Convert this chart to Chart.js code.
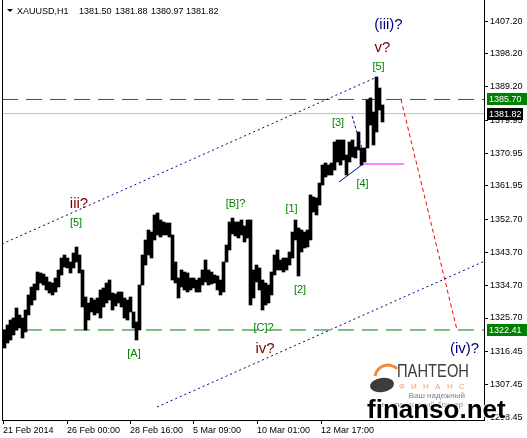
<!DOCTYPE html>
<html>
<head>
<meta charset="utf-8">
<script src="https://cdn.jsdelivr.net/npm/chart.js@4.4.1/dist/chart.umd.min.js"></script>
<style>
html,body{margin:0;padding:0;background:#fff;overflow:hidden;}
canvas{display:block;}
</style>
</head>
<body>
<canvas id="chart" width="527" height="438"></canvas>
<script>
// ---------------- data ----------------
const symbolName = 'XAUUSD,H1';
const lastQuote = ['1381.50', '1381.88', '1380.97', '1381.82'];

// sampled H1 bars (every 3 hours): high / low
const barHigh = [
  1322.41,1323.78,1325.15,1325.70,1328.45,1326.53,1325.70,1327.90,1332.02,1334.21,
  1335.04,1338.33,1338.06,1337.78,1336.96,1335.59,1335.31,1336.68,1338.88,1342.17,
  1343.00,1342.17,1341.08,1343.55,1345.19,1343.00,1338.88,1331.47,1329.82,1331.19,
  1330.64,1331.19,1333.39,1333.94,1335.31,1336.13,1332.57,1332.29,1332.84,1332.84,
  1331.19,1330.64,1331.47,1327.35,1324.60,1334.76,1343.00,1347.12,1349.86,1349.31,
  1353.98,1354.53,1352.61,1352.06,1351.78,1351.78,1348.49,1341.08,1336.68,1338.88,
  1338.33,1338.06,1336.68,1336.68,1336.13,1336.68,1338.88,1341.63,1338.88,1338.33,
  1337.51,1337.23,1336.13,1341.08,1345.74,1352.06,1353.15,1352.06,1352.06,1352.61,
  1350.96,1352.61,1352.61,1338.88,1340.25,1339.43,1336.13,1335.31,1334.76,1338.33,
  1343.00,1344.37,1341.63,1342.17,1342.17,1343.82,1349.31,1352.61,1350.41,1349.86,
  1349.31,1349.86,1359.47,1358.92,1358.65,1362.76,1367.70,1368.25,1367.70,1368.25,
  1374.02,1374.57,1374.57,1374.57,1370.45,1374.02,1374.57,1372.65,1376.76,1372.37,
  1372.37,1385.55,1386.10,1382.25,1391.86,1388.84,1384.18
];
const barLow = [
  1317.47,1318.84,1319.66,1321.04,1322.41,1322.96,1320.21,1321.86,1326.53,1329.27,
  1330.64,1333.39,1335.31,1334.76,1333.39,1332.57,1332.02,1332.84,1334.21,1337.51,
  1339.70,1339.43,1338.06,1339.43,1341.08,1338.06,1328.72,1322.41,1325.15,1327.35,
  1326.53,1327.08,1325.70,1328.72,1329.82,1330.64,1327.90,1329.00,1329.82,1328.72,
  1325.70,1325.15,1327.35,1322.96,1319.66,1322.41,1334.76,1340.25,1343.00,1342.17,
  1347.12,1348.49,1347.94,1348.49,1348.49,1347.94,1336.13,1335.31,1331.19,1334.21,
  1333.39,1332.84,1333.39,1333.94,1332.84,1332.84,1334.76,1335.59,1334.76,1335.04,
  1335.31,1333.39,1332.02,1332.84,1341.08,1344.37,1348.76,1348.21,1347.66,1348.49,
  1346.57,1347.66,1329.27,1331.19,1335.59,1333.39,1327.90,1329.27,1329.82,1332.02,
  1337.51,1338.88,1338.88,1338.33,1338.88,1340.25,1342.17,1347.12,1337.23,1343.82,
  1344.92,1345.19,1347.12,1354.80,1353.98,1356.72,1362.21,1364.41,1364.96,1364.96,
  1366.33,1368.53,1367.70,1369.08,1364.96,1368.53,1369.90,1369.63,1371.82,1367.70,
  1368.53,1372.37,1378.69,1373.19,1376.76,1382.80,1379.51
];
const hoursPerBar = 3;

const timeTickHours = [1, 65, 128, 191, 255, 319];
const timeTickLabels = ['21 Feb 2014', '26 Feb 00:00', '28 Feb 16:00', '5 Mar 09:00', '10 Mar 01:00', '12 Mar 17:00'];
const priceTicks = [1407.20, 1398.20, 1389.20, 1379.95, 1370.95, 1361.95, 1352.70, 1343.70, 1334.70, 1325.70, 1316.45, 1307.45, 1298.45];

const resistanceLevel = 1385.70;
const supportLevel = 1322.41;
const bidLevel = 1381.82;

// drawn analysis objects (hour index, price)
const upperChannel = [{x: 0, y: 1346.02}, {x: 375, y: 1391.86}];
const lowerChannel = [{x: 155, y: 1301.27}, {x: 482, y: 1341.24}];
const targetPath = [{x: 399, y: 1385.70}, {x: 455, y: 1322.41}];
const wave4Level = [{x: 361, y: 1367.98}, {x: 402, y: 1367.98}];
const wave4Line = [{x: 337, y: 1363.04}, {x: 361, y: 1367.98}];
const wave3Line = [{x: 350, y: 1381.16}, {x: 361, y: 1371.27}];

const waveText   = ['(iii)?', 'v?', '[5]', '[3]', '[4]', '[1]', '[2]', '[B]?', '[C]?', 'iv?', 'iii?', '[5]', '[A]', '(iv)?'];
const waveHour   = [386.5, 380.5, 376.5, 336, 360.5, 289.5, 298, 233.5, 261.5, 263, 77, 74, 132, 462.5];
const wavePrice  = [1405.04, 1398.72, 1393.78, 1378.41, 1361.66, 1354.80, 1332.57, 1356.17, 1322.13, 1316.09, 1355.90, 1350.96, 1315.00, 1316.09];
const waveDegree = ['intermediate', 'minor', 'minute', 'minute', 'minute', 'minute', 'minute', 'minute', 'minute', 'minor', 'minor', 'minute', 'minute', 'intermediate'];

// ---------------- styles ----------------
const FONT = "'Liberation Sans', Arial, sans-serif";
const degreeStyle = {
  intermediate: {color: '#000080', size: 15},
  minor: {color: '#800000', size: 15},
  minute: {color: '#008000', size: 11}
};

const priceBars = barHigh.map((h, i) => ({x: i * hoursPerBar + hoursPerBar / 2 + 1, y: [barLow[i], h]}));
const fullSpan = v => [{x: 0, y: v}, {x: 482, y: v}];

function lineDs(data, color, dash, order) {
  return {type: 'line', data, borderColor: color, borderWidth: 1, borderDash: dash || [],
          pointRadius: 0, fill: false, tension: 0, order: order};
}

const annotPlugin = {
  id: 'annot',
  beforeDraw(chart) {
    const ctx = chart.ctx;
    ctx.save();
    ctx.fillStyle = '#fff';
    ctx.fillRect(0, 0, chart.width, chart.height);
    ctx.restore();
  },
  afterDraw(chart) {
    const {ctx, chartArea: a, scales: {x, y}} = chart;
    ctx.save();
    // left frame line
    ctx.strokeStyle = '#000'; ctx.lineWidth = 1;
    ctx.beginPath(); ctx.moveTo(a.left + 0.5, a.top); ctx.lineTo(a.left + 0.5, a.bottom); ctx.stroke();

    // header
    ctx.fillStyle = '#000';
    ctx.beginPath(); ctx.moveTo(7, 9); ctx.lineTo(13, 9); ctx.lineTo(10, 12); ctx.closePath(); ctx.fill();
    ctx.font = '9px ' + FONT; ctx.textBaseline = 'alphabetic'; ctx.textAlign = 'left';
    ctx.fillText(symbolName, 17, 14);
    const qx = [79, 115, 151, 186];
    lastQuote.forEach((q, i) => ctx.fillText(q, qx[i], 14));

    // wave labels
    ctx.textAlign = 'center';
    waveText.forEach((t, i) => {
      const st = degreeStyle[waveDegree[i]];
      ctx.fillStyle = st.color;
      ctx.font = st.size + 'px ' + FONT;
      ctx.fillText(t, x.getPixelForValue(waveHour[i]), y.getPixelForValue(wavePrice[i]));
    });

    // price tags on the axis
    const tag = (v, bg, w) => {
      const py = Math.round(y.getPixelForValue(v));
      ctx.fillStyle = bg;
      ctx.fillRect(a.right + 3, py - 6, w, 12);
      ctx.fillStyle = '#fff';
      ctx.font = '9px ' + FONT; ctx.textAlign = 'left'; ctx.textBaseline = 'middle';
      ctx.fillText(v.toFixed(2), a.right + 5, py + 0.5);
    };
    tag(resistanceLevel, '#008000', 40);
    tag(bidLevel, '#000', 36);
    tag(supportLevel, '#008000', 40);

    // watermark logo
    ctx.textBaseline = 'alphabetic';
    ctx.strokeStyle = '#f08a3c'; ctx.lineWidth = 3;
    ctx.beginPath(); ctx.arc(388, 378, 13, Math.PI * 1.05, Math.PI * 1.75); ctx.stroke();
    ctx.fillStyle = '#3c3c3c';
    ctx.beginPath(); ctx.ellipse(382, 385, 12, 7, -0.15, 0, Math.PI * 2); ctx.fill();
    ctx.fillStyle = '#3c3c3c';
    ctx.font = '18px ' + FONT; ctx.textAlign = 'left';
    ctx.fillText('ПАНТЕОН', 397, 377, 72);
    ctx.fillStyle = '#f2a070';
    ctx.font = '8px ' + FONT;
    const fin = 'ФИНАНС';
    for (let i = 0; i < fin.length; i++) ctx.fillText(fin[i], 399 + i * 12, 389);
    ctx.fillStyle = '#808080';
    ctx.font = '8px ' + FONT; ctx.textAlign = 'right';
    ctx.fillText('Ваш надежный', 465, 398);
    ctx.fillText('инвестиционный брокер', 463, 407);

    ctx.textAlign = 'left';
    ctx.font = 'bold 26px ' + FONT;
    ctx.strokeStyle = '#fff'; ctx.lineWidth = 2;
    ctx.strokeText('finanso.net', 367, 418);
    ctx.fillStyle = '#000';
    ctx.fillText('finanso.net', 367, 418);
    ctx.restore();
  }
};

new Chart(document.getElementById('chart'), {
  type: 'bar',
  data: {
    datasets: [
      {type: 'bar', data: priceBars, backgroundColor: '#000', borderWidth: 0,
       barPercentage: 1, categoryPercentage: 1, order: 2},
      lineDs(fullSpan(bidLevel), '#c0c0c0', [], 5),
      lineDs(fullSpan(resistanceLevel), '#008000', [16, 8], 4),
      lineDs(fullSpan(supportLevel), '#008000', [16, 8], 4),
      lineDs(upperChannel, '#000080', [2, 3], 1),
      lineDs(lowerChannel, '#000080', [2, 3], 1),
      lineDs(targetPath, '#ff0000', [4, 3], 1),
      lineDs(wave4Level, '#ff00ff', [], 1),
      lineDs(wave4Line, '#000080', [], 1),
      lineDs(wave3Line, '#000080', [3, 2], 1)
    ]
  },
  options: {
    responsive: false,
    animation: false,
    devicePixelRatio: 1,
    layout: {padding: {left: 2, top: 0, right: 0, bottom: 0}},
    plugins: {legend: {display: false}, tooltip: {enabled: false}},
    scales: {
      x: {
        type: 'linear', min: 0, max: 482, offset: false,
        grid: {display: true, drawOnChartArea: false, drawTicks: true, tickLength: 4, color: '#000', offset: false},
        border: {display: true, color: '#000'},
        ticks: {autoSkip: false, maxRotation: 0, align: 'start', padding: 1, color: '#000',
                font: {family: FONT, size: 9},
                callback: (v, i) => timeTickLabels[i]},
        afterBuildTicks: s => { s.ticks = timeTickHours.map(v => ({value: v})); },
        afterFit: s => { s.height = 18; s.paddingLeft = 0; s.paddingRight = 0; }
      },
      y: {
        position: 'right', min: 1297.7, max: 1413.0,
        grid: {display: true, drawOnChartArea: false, drawTicks: true, tickLength: 4, color: '#000'},
        border: {display: true, color: '#000'},
        ticks: {autoSkip: false, padding: 2, color: '#000', font: {family: FONT, size: 9},
                callback: v => Number(v).toFixed(2)},
        afterBuildTicks: s => { s.ticks = priceTicks.map(v => ({value: v})); },
        afterFit: s => { s.width = 43; s.paddingTop = 0; s.paddingBottom = 0; }
      }
    }
  },
  plugins: [annotPlugin]
});
</script>
</body>
</html>
